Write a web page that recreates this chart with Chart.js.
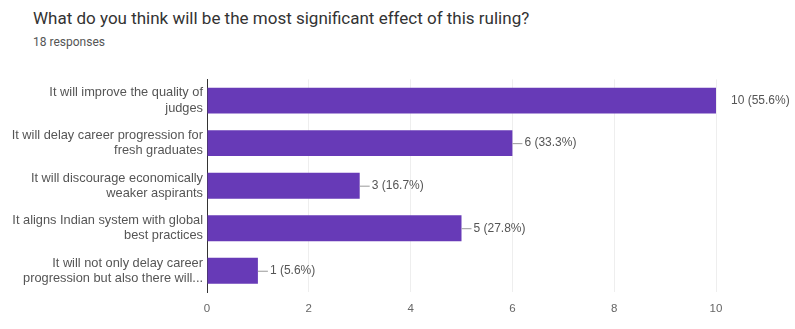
<!DOCTYPE html>
<html>
<head>
<meta charset="utf-8">
<script src="https://cdn.jsdelivr.net/npm/chart.js@4/dist/chart.umd.min.js"></script>
<style>
  html, body { margin: 0; padding: 0; background: #fff; }
  body { width: 795px; height: 329px; position: relative; overflow: hidden; font-family: Roboto, Arial, sans-serif; }
  .title { position: absolute; left: 33px; top: 8px; font-size: 17px; color: #333; }
  .sub { position: absolute; left: 33px; top: 35px; font-size: 12px; color: #555; }
  .wrap { position: absolute; left: 0; top: 60px; width: 795px; height: 269px; }
</style>
</head>
<body>
<div class="title">What do you think will be the most significant effect of this ruling?</div>
<div class="sub">18 responses</div>
<div class="wrap"><canvas id="chart"></canvas></div>
<script>
// answer options, wrapped over two lines
const answers = [
  ['It will improve the quality of', 'judges'],
  ['It will delay career progression for', 'fresh graduates'],
  ['It will discourage economically', 'weaker aspirants'],
  ['It aligns Indian system with global', 'best practices'],
  ['It will not only delay career', 'progression but also there will...']
];
const counts = [10, 6, 3, 5, 1];
const percents = ['55.6', '33.3', '16.7', '27.8', '5.6'];
const xTicks = [0, 2, 4, 6, 8, 10];

const PURPLE = '#673ab7';
const FONT = '"Liberation Sans", Arial, sans-serif';

// count + percent beside each bar, with a short leader line
const barLabels = {
  id: 'barLabels',
  afterDatasetsDraw(chart) {
    const ctx = chart.ctx;
    const x = chart.scales.x;
    const meta = chart.getDatasetMeta(0);
    ctx.save();
    ctx.font = '12px ' + FONT;
    ctx.fillStyle = '#555';
    ctx.textBaseline = 'middle';
    meta.data.forEach((bar, i) => {
      const end = x.getPixelForValue(counts[i]);
      const y = bar.y;
      const text = counts[i] + ' (' + percents[i] + '%)';
      if (counts[i] >= x.max) {
        ctx.fillText(text, end + 15, y);
      } else {
        ctx.strokeStyle = '#999';
        ctx.lineWidth = 1;
        ctx.beginPath();
        ctx.moveTo(end, y + 0.5);
        ctx.lineTo(end + 10, y + 0.5);
        ctx.stroke();
        ctx.fillText(text, end + 12, y);
      }
    });
    ctx.restore();
  }
};

new Chart(document.getElementById('chart'), {
  type: 'bar',
  data: {
    labels: answers,
    datasets: [{
      data: counts,
      backgroundColor: PURPLE,
      borderWidth: 0,
      categoryPercentage: 1,
      barPercentage: 0.61
    }]
  },
  options: {
    indexAxis: 'y',
    responsive: true,
    maintainAspectRatio: false,
    animation: false,
    layout: { padding: { top: 11, right: 79, bottom: 0, left: 0 } },
    plugins: {
      legend: { display: false },
      tooltip: { enabled: false }
    },
    scales: {
      x: {
        min: 0,
        max: 10,
        afterBuildTicks: s => { s.ticks = xTicks.map(v => ({ value: v })); },
        afterFit: s => { s.height = 37; },
        grid: { color: '#eeeeee', drawTicks: false },
        border: { display: false },
        ticks: { color: '#666', padding: 10, font: { size: 11.5, family: FONT } }
      },
      y: {
        afterFit: s => { s.width = 207; },
        grid: { display: false, drawTicks: false },
        border: { display: true, color: '#333', width: 1 },
        ticks: { color: '#555', padding: 4, font: { size: 12.8, family: FONT, lineHeight: 1.2 } }
      }
    }
  },
  plugins: [barLabels]
});
</script>
</body>
</html>
